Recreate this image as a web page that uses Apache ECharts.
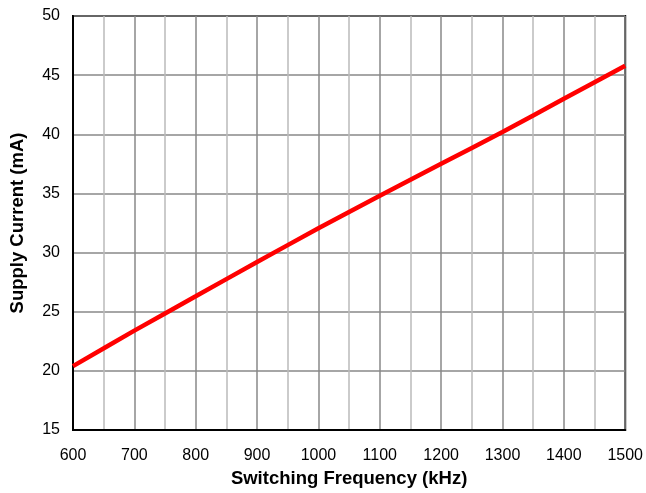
<!DOCTYPE html>
<html>
<head>
<meta charset="utf-8">
<script src="https://cdn.jsdelivr.net/npm/echarts@6/dist/echarts.min.js"></script>
<style>
html,body{margin:0;padding:0;background:#fff;}
#chart{width:646px;height:493px;}
</style>
</head>
<body>
<div id="chart"></div>
<script>
const frequencyKHz = [600, 700, 800, 900, 1000, 1100, 1200, 1300, 1400, 1500];
const supplyCurrentMA = [20.4, 23.4, 26.3, 29.2, 32.05, 34.8, 37.5, 40.2, 43.0, 45.8];
const xTitle = 'Switching Frequency (kHz)';
const yTitle = 'Supply Current (mA)';

const chart = echarts.init(document.getElementById('chart'));
const font = '"Liberation Sans", Arial, sans-serif';
chart.setOption({
  animation: false,
  grid: {left: 73, right: 20, top: 16, bottom: 60, show: true, borderColor: '#000', borderWidth: 2, backgroundColor: 'transparent'},
  xAxis: {
    type: 'value', min: 600, max: 1500, interval: 100,
    name: xTitle, nameLocation: 'middle', nameGap: 39,
    nameTextStyle: {fontFamily: font, fontSize: 18.5, fontWeight: 'bold', color: '#000'},
    axisLine: {show: true, lineStyle: {color: '#000', width: 2}},
    axisTick: {show: false},
    axisLabel: {fontFamily: font, fontSize: 16, color: '#000', margin: 18, formatter: v => String(v)},
    splitLine: {show: true, lineStyle: {color: '#888', width: 1.5}},
    minorTick: {show: false, splitNumber: 2},
    minorSplitLine: {show: true, lineStyle: {color: '#bbb', width: 1.5}}
  },
  yAxis: {
    type: 'value', min: 15, max: 50, interval: 5,
    name: yTitle, nameLocation: 'middle', nameGap: 46,
    nameTextStyle: {fontFamily: font, fontSize: 18.5, fontWeight: 'bold', color: '#000'},
    axisLine: {show: true, lineStyle: {color: '#000', width: 2}},
    axisTick: {show: false},
    axisLabel: {fontFamily: font, fontSize: 16, color: '#000', margin: 13, padding: [3, 0, 0, 0]},
    splitLine: {show: true, lineStyle: {color: '#888', width: 1.5}}
  },
  series: [{
    type: 'line',
    data: frequencyKHz.map((f, i) => [f, supplyCurrentMA[i]]),
    smooth: 0.3,
    showSymbol: false,
    lineStyle: {color: '#ff0000', width: 4.5},
    z: 5
  }]
});
</script>
</body>
</html>
